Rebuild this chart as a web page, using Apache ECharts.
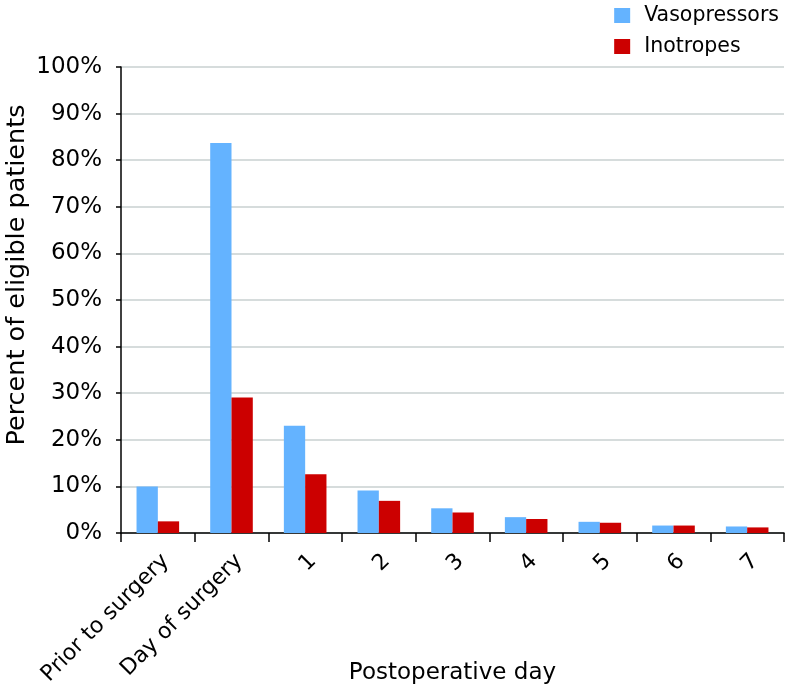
<!DOCTYPE html>
<html>
<head>
<meta charset="utf-8">
<script src="https://cdn.jsdelivr.net/npm/echarts@6/dist/echarts.min.js"></script>
<style>html,body{margin:0;padding:0;background:#fff}#c{width:786px;height:688px}</style>
</head>
<body>
<div id="c"></div>
<script>
const categories = ['Prior to surgery', 'Day of surgery', '1', '2', '3', '4', '5', '6', '7'];
const vasopressors = [10.0, 83.7, 23.0, 9.1, 5.3, 3.4, 2.4, 1.6, 1.4];
const inotropes = [2.5, 29.1, 12.6, 6.9, 4.4, 3.0, 2.2, 1.6, 1.2];
const seriesNames = ['Vasopressors', 'Inotropes'];
const colors = ['#64b3ff', '#cc0000'];

const font = '"DejaVu Sans", sans-serif';
const chart = echarts.init(document.getElementById('c'), null, {renderer: 'canvas'});
chart.setOption({
  animation: false,
  color: colors,
  textStyle: {fontFamily: font, color: '#000'},
  legend: {
    orient: 'vertical', right: 2, top: 0,
    itemWidth: 16, itemHeight: 15, itemGap: 10,
    icon: 'rect',
    textStyle: {fontSize: 20.5, lineHeight: 20, color: '#000', fontFamily: font, padding: [0, 0, 0, 9]},
    data: seriesNames
  },
  grid: {left: 121, right: 2, top: 67, bottom: 155, containLabel: false, outerBoundsMode: 'none'},
  xAxis: {
    type: 'category', data: categories,
    boundaryGap: true,
    axisLine: {lineStyle: {color: '#000', width: 1.5}},
    axisTick: {show: true, length: 9, lineStyle: {color: '#000', width: 1.5}},
    axisLabel: {rotate: 45, fontSize: 22, color: '#000', fontFamily: font, margin: 17, interval: 0, verticalAlign: 'top'},
    name: 'Postoperative day', nameLocation: 'middle', nameGap: 129, nameMoveOverlap: false,
    nameTextStyle: {fontSize: 23, color: '#000', fontFamily: font}
  },
  yAxis: {
    type: 'value', min: 0, max: 100, interval: 10,
    axisLine: {show: true, lineStyle: {color: '#000', width: 1.5}},
    axisTick: {show: true, length: 5, lineStyle: {color: '#000', width: 1.5}},
    axisLabel: {formatter: '{value}%', fontSize: 23, color: '#000', fontFamily: font, margin: 19},
    splitLine: {show: true, lineStyle: {color: '#c9d0d0', width: 1.5}},
    name: 'Percent of eligible patients', nameLocation: 'middle', nameGap: 91, nameMoveOverlap: false,
    nameTextStyle: {fontSize: 25.5, color: '#000', fontFamily: font, padding: [0, 0, 0, 50]}
  },
  series: [
    {name: seriesNames[0], type: 'bar', data: vasopressors, barWidth: 21.3, barGap: '0%', itemStyle: {color: colors[0]}},
    {name: seriesNames[1], type: 'bar', data: inotropes, barWidth: 21.3, barGap: '0%', itemStyle: {color: colors[1]}}
  ]
});
</script>
</body>
</html>
